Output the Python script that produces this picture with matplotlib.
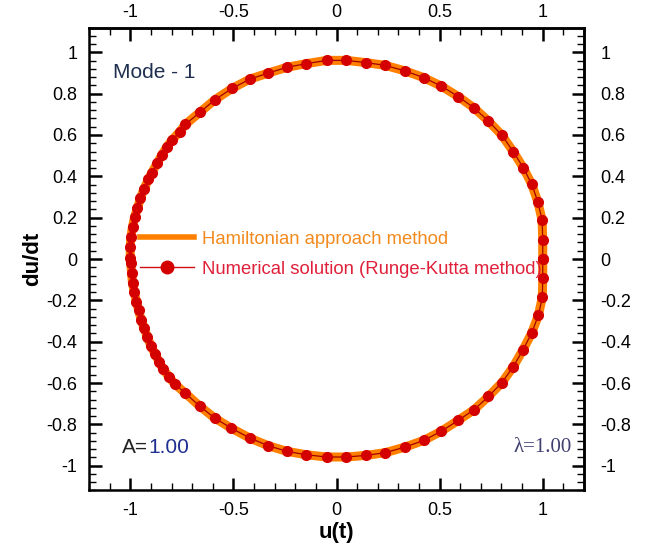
import matplotlib
matplotlib.use("Agg")
import matplotlib.pyplot as plt
from matplotlib.lines import Line2D
from matplotlib.ticker import MultipleLocator

# ---- data (u, du/dt) ----
u_rk = [1.000, 1.000, 0.997, 0.976, 0.947, 0.906, 0.858, 0.802, 0.737, 0.667,
        0.590, 0.509, 0.422, 0.332, 0.236, 0.144, 0.048, -0.048, -0.147, -0.239,
        -0.330, -0.421, -0.507, -0.589, -0.660, -0.733, -0.761, -0.798, -0.822, -0.848,
        -0.869, -0.896, -0.912, -0.934, -0.951, -0.965, -0.979, -0.989, -0.997, -1.000,
        -1.000, -0.997, -0.994, -0.989, -0.981, -0.970, -0.960, -0.947, -0.933, -0.917,
        -0.900, -0.880, -0.861, -0.841, -0.813, -0.785, -0.737, -0.662, -0.590, -0.511,
        -0.421, -0.332, -0.239, -0.147, -0.048, 0.048, 0.144, 0.236, 0.332, 0.422,
        0.507, 0.590, 0.667, 0.737, 0.802, 0.856, 0.904, 0.946, 0.979, 0.998,
        1.000, 1.000]
v_rk = [0.000, 0.092, 0.188, 0.277, 0.361, 0.441, 0.518, 0.599, 0.667, 0.731,
        0.786, 0.836, 0.878, 0.910, 0.937, 0.950, 0.961, 0.961, 0.945, 0.928,
        0.900, 0.870, 0.825, 0.771, 0.712, 0.651, 0.615, 0.575, 0.543, 0.502,
        0.464, 0.417, 0.385, 0.338, 0.293, 0.245, 0.204, 0.156, 0.108, 0.059,
        0.003, -0.021, -0.069, -0.117, -0.158, -0.206, -0.246, -0.295, -0.335, -0.378,
        -0.420, -0.459, -0.496, -0.533, -0.569, -0.604, -0.646, -0.713, -0.770, -0.818,
        -0.866, -0.903, -0.931, -0.947, -0.958, -0.958, -0.950, -0.937, -0.910, -0.878,
        -0.834, -0.781, -0.729, -0.665, -0.598, -0.523, -0.440, -0.359, -0.272, -0.185,
        -0.093, 0.000]

# Hamiltonian approach curve (same trajectory)
u_ham = u_rk
v_ham = v_rk

xticks = [-1, -0.5, 0, 0.5, 1]
xticklabels = ["-1", "-0.5", "0", "0.5", "1"]
yticks = [-1, -0.8, -0.6, -0.4, -0.2, 0, 0.2, 0.4, 0.6, 0.8, 1]
yticklabels = ["-1", "-0.8", "-0.6", "-0.4", "-0.2", "0", "0.2", "0.4", "0.6", "0.8", "1"]

plt.rcParams['font.family'] = ['Liberation Sans', 'DejaVu Sans']

fig = plt.figure(figsize=(6.46, 5.47), dpi=100)
ax = fig.add_axes([0.1378, 0.1033, 0.7662, 0.8464])

orange = '#FF8000'
red = '#D40000'

ax.plot(u_ham, v_ham, color=orange, lw=6.5, solid_capstyle='round',
        solid_joinstyle='round', zorder=2)
ax.plot(u_rk, v_rk, color='#A00000', lw=0.9, marker='o', ms=7,
        mfc=red, mec=red, zorder=3)

ax.set_xlim(-1.2, 1.2)
ax.set_ylim(-1.12, 1.12)

ax.set_xticks(xticks)
ax.set_xticklabels(xticklabels)
ax.set_yticks(yticks)
ax.set_yticklabels(yticklabels)
ax.xaxis.set_minor_locator(MultipleLocator(0.1))
ax.yaxis.set_minor_locator(MultipleLocator(0.04))

ax.tick_params(which='both', direction='in', top=False, right=False,
               labelsize=13, colors='black')
ax.tick_params(which='major', length=9, width=1.8)
ax.tick_params(which='minor', length=5, width=1.0)
ax.tick_params(axis='x', which='major', pad=8.5)
ax.tick_params(axis='y', which='major', pad=8.5)
for s in ax.spines.values():
    s.set_linewidth(1.8)

# top and right axes with their own labels
secx = ax.secondary_xaxis('top')
secx.set_xticks(xticks)
secx.set_xticklabels(xticklabels)
secx.xaxis.set_minor_locator(MultipleLocator(0.1))
secx.tick_params(which='both', direction='in', labelsize=13)
secx.tick_params(which='major', length=9, width=1.8, pad=4.5)
secx.tick_params(which='minor', length=5, width=1.0)
secx.spines['top'].set_linewidth(1.8)

secy = ax.secondary_yaxis('right')
secy.set_yticks(yticks)
secy.set_yticklabels(yticklabels)
secy.yaxis.set_minor_locator(MultipleLocator(0.04))
secy.tick_params(which='both', direction='in', labelsize=13)
secy.tick_params(which='major', length=9, width=1.8, pad=12)
secy.tick_params(which='minor', length=5, width=1.0)
secy.spines['right'].set_linewidth(1.8)

ax.set_xlabel('u(t)', fontsize=16, fontweight='bold', labelpad=2)
ax.set_ylabel('du/dt', fontsize=16, fontweight='bold', labelpad=2)

ax.text(-1.085, 0.90, 'Mode - 1', fontsize=15, color='#1F2F4F', va='center', ha='left')
tA = ax.text(-1.04, -0.91, 'A=', fontsize=15, color='#222222', va='center', ha='left')
ax.annotate('1.00', xy=(1.0, 0.5), xycoords=tA, va='center', ha='left',
            fontsize=15, color='#1F2F8F')
ax.text(1.14, -0.91, 'λ=1.00', fontsize=15, color='#3F3F70', va='center', ha='right',
        family=['Liberation Serif', 'DejaVu Serif'])

handles = [Line2D([], [], color=orange, lw=4),
           Line2D([], [], color='#D01010', lw=1, marker='o', ms=9, mfc=red, mec=red)]
labels = ['Hamiltonian approach method', 'Numerical solution (Runge-Kutta method)']
ax.legend(handles, labels, loc='upper left', bbox_to_anchor=(0.103, 0.561),
          frameon=False, fontsize=13.3, handlelength=2.9, handletextpad=0.45,
          labelspacing=0.69, borderpad=0, borderaxespad=0, numpoints=1,
          labelcolor=['#F28A1E', '#E0203A'])

fig.savefig('out.png', dpi=100)
